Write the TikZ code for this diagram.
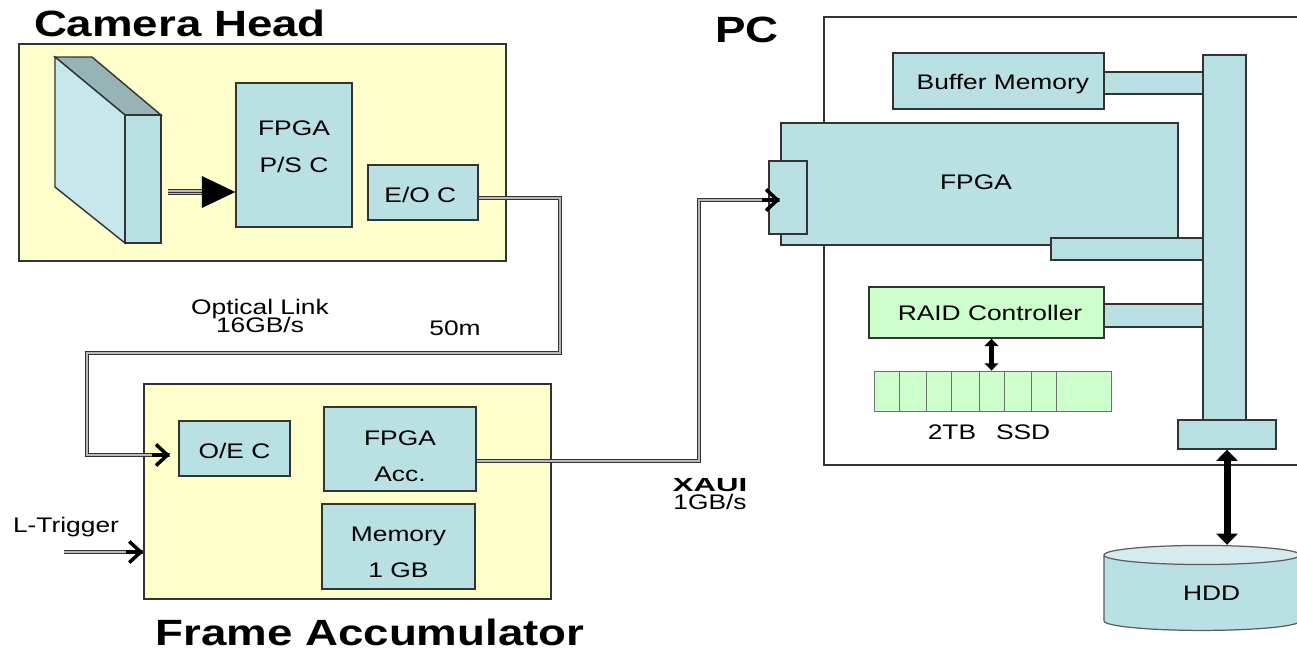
\documentclass[tikz,border=0pt]{standalone}
\usepackage{fontspec}
\setmainfont{Liberation Sans}[FakeStretch=1.25]
\usetikzlibrary{arrows.meta, calc, positioning, shapes.geometric}
\definecolor{paleyellow}{HTML}{FFFFCC}
\definecolor{paleblue}{HTML}{B9E0E3}
\definecolor{lightblue}{HTML}{C6E7EB}
\definecolor{greyblue}{HTML}{96B4B6}
\definecolor{palegreen}{HTML}{CCFFCC}
\definecolor{edgegrey}{HTML}{333333}

\begin{document}
\begin{tikzpicture}[x=0.02cm, y=-0.02cm,
		main/.style 2 args = {draw=edgegrey, line width=0.8pt, inner sep=0pt, align=center, font=\fontsize{12}{21}\selectfont, minimum width=(#1)*0.02cm, minimum height=(#2)*0.02cm},
		block/.style 2 args = {main={#1}{#2}, fill=paleblue},
		outer/.style 2 args = {main={#1}{#2}, fill=paleyellow},
		raidbox/.style 2 args = {main={#1}{#2}, fill=palegreen},
		title/.style = {font=\fontsize{20.8}{24}\selectfont\bfseries, inner sep=0pt},
		note/.style = {font=\fontsize{12}{10.2}\selectfont\setlength{\lineskiplimit}{-5pt}, inner sep=0pt, align=center},
		wire/.style = {draw=edgegrey, line width=0.6pt, double=edgegrey!35, double distance=0.9pt},
		tip/.style = {draw=black, line width=2pt, -{Straight Barb[length=6.5pt, width=12pt]}},
		both/.style = {draw=black, {Triangle[length=#1*1.6, width=#1*3]}-{Triangle[length=#1*1.6, width=#1*3]}, line width=#1}]
		\clip (0,0) rectangle (1297,649);
		\fill[white] (0,0) rectangle (1297,649);
		\node[title] (chtitle) at (180,23) {Camera Head};
		\node[title] (fatitle) at (370,632) {Frame Accumulator};
		\node[title] (pctitle) at (747,30) {PC};
		\node[outer={487}{217}] (camera) at (262.5,152.5) {};
		\node[outer={407}{215}] (frame) at (347.5,491.5) {};
		\node[main={486}{448}, fill=white] (pc) at (1067,241) {};
		\filldraw[draw=edgegrey, line width=0.8pt, fill=greyblue] (55,57) -- (92,57) -- (161,115) -- (125,115) -- cycle;
		\filldraw[draw=edgegrey, line width=0.8pt, fill=lightblue] (55,57) -- (125,115) -- (125,243) -- (55,187) -- cycle;
		\filldraw[draw=edgegrey, line width=0.8pt, fill=paleblue] (125,115) rectangle (161,243);
		\node[block={116}{144}] (fpgaps) at (294,155) {FPGA\\P/S C\rule[-10pt]{0pt}{0pt}};
		\node[block={110}{55}] (eoc) at (423,192.5) {\rule{0pt}{11.4pt}E/O C\hspace*{3pt}};
		\node[block={111}{55}] (oec) at (234.5,448.5) {\rule{0pt}{11.4pt}O/E C};
		\node[block={152}{84}] (fpgaacc) at (400,449) {\rule{0pt}{16.6pt}FPGA\\Acc.};
		\node[block={153}{85}, font=\fontsize{12}{20.5}\selectfont] (mem) at (398.5,546.5) {\rule{0pt}{14.6pt}Memory\\1 GB};
		\node[block={99}{22}] (buflink) at (1153.5,83) {};
		\node[block={99}{23}] (raidlink) at (1153.5,315.5) {};
		\node[block={211}{56}] (buffer) at (998.5,81) {\rule{0pt}{12.2pt}\hspace*{5pt}Buffer Memory};
		\node[block={397}{122}] (fpga) at (979.5,184) {\rule[-2.3pt]{0pt}{0pt}FPGA\hspace*{4pt}};
		\node[block={38}{73}] (port) at (788,197.5) {};
		\node[block={152}{22}] (tab) at (1127,249) {};
		\node[raidbox={235}{51}] (raid) at (986.5,312.5) {\hspace*{4pt}RAID Controller};
		\node[block={43}{365}] (bus) at (1224.5,237.5) {};
		\node[block={98}{29}] (foot) at (1227,434.5) {};
		\foreach \n/\a/\b in {1/874/899, 2/899/926, 3/926/951, 4/951/979, 5/979/1004, 6/1004/1031, 7/1031/1056, 8/1056/1111}
			\node[raidbox={\b-\a}{40}, line width=0.5pt, draw=edgegrey!70] (ssd\n) at ({(\a+\b)/2},391) {};
		\node[note] (ssdtext) at (989,432) {2TB\hspace{0.6em} SSD};
		\node[draw=edgegrey!80, line width=0.7pt, cylinder, shape border rotate=90, aspect=0.25, inner sep=0pt, cylinder uses custom fill, cylinder body fill=paleblue, cylinder end fill=paleblue!60!white, minimum width=196*0.02cm, minimum height=85*0.02cm, font=\fontsize{12}{14}\selectfont] (hdd) at (1202,593) {\hspace*{11pt}HDD};
		\node[note] (optical) at (260,316) {Optical Link\\16GB/s};
		\node[note] (dist) at (455,328) {50m};
		\node[note] (trigger) at (66,527) {L-Trigger};
		\node[note] (xaui) at (710,494.5) {\textbf{\scalebox{1.18}[0.9]{XAUI}}\\1GB/s};
		\coordinate (a1) at (560,198);
		\coordinate (a2) at (560,353);
		\coordinate (a3) at (87,353);
		\coordinate (a4) at (87,455);
		\coordinate (a5) at (170,455);
		\coordinate (b1) at (699,461);
		\coordinate (b2) at (699,200);
		\coordinate (b3) at (780,200);
		\coordinate (c1) at (64,552);
		\coordinate (s1) at (168,192);
		\coordinate (s2) at (206,192);
		\draw[wire] (eoc.east |- a1) -- (a1) -- (a2) -- (a3) -- (a4) -- (a5);
		\draw[tip] (152,455) -- (a5);
		\draw[wire] (fpgaacc.east |- b1) -- (b1) -- (b2) -- (b3);
		\draw[tip] (762,200) -- (b3);
		\draw[wire] (c1) -- (frame.west |- c1);
		\draw[tip] (126,552) -- (frame.west |- c1);
		\draw[wire, double distance=2.2pt] (s1) -- (s2);
		\draw[draw=edgegrey, line width=0.5pt] (s1) -- (s2);
		\draw[draw=black, line width=0.5pt, -{Triangle[length=19pt, width=18pt]}] (s2) -- (fpgaps.west |- s1);
		\draw[both=2.6pt] (raid.south -| ssd5.north) -- (ssd5.north);
		\draw[both=4pt] (foot.south) -- (foot.south |- hdd.north);
	\end{tikzpicture}
\end{document}
